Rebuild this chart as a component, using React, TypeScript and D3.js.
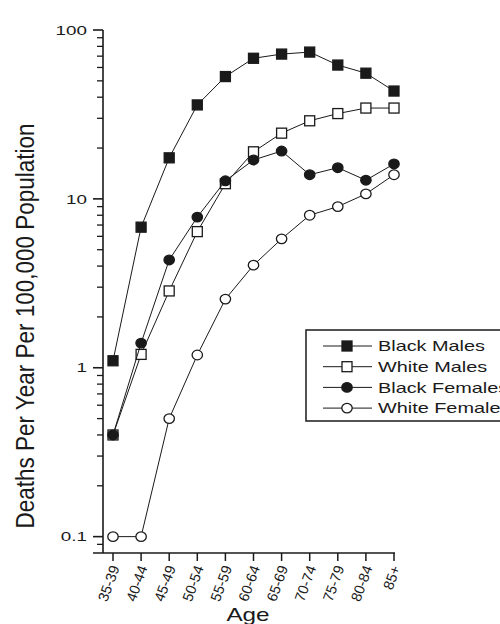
import React from "react";
import * as d3 from "d3";

// age groups on the x axis
const ages = ["35-39", "40-44", "45-49", "50-54", "55-59", "60-64", "65-69", "70-74", "75-79", "80-84", "85+"];

// deaths per year per 100,000
const blackMales = [1.1, 6.8, 17.5, 36, 53, 68, 72, 74, 62, 55.5, 43.5];
const whiteMales = [0.4, 1.2, 2.85, 6.4, 12.3, 19, 24.5, 29, 32, 34.5, 34.5];
const blackFemales = [0.4, 1.4, 4.35, 7.8, 12.8, 17, 19.2, 13.9, 15.3, 12.9, 16.1];
const whiteFemales = [0.1, 0.1, 0.5, 1.19, 2.55, 4.05, 5.8, 8.0, 9.0, 10.7, 13.9];

const seriesNames = ["Black Males", "White Males", "Black Females", "White Females"];
const majorTicks = [0.1, 1, 10, 100];
const majorLabels = ["0.1", "1", "10", "100"];

const font = "'Liberation Sans', Arial, Helvetica, sans-serif";
const ink = "#1a1a1a";

const series = [
  { name: seriesNames[0], values: blackMales, shape: "square", filled: true },
  { name: seriesNames[1], values: whiteMales, shape: "square", filled: false },
  { name: seriesNames[2], values: blackFemales, shape: "circle", filled: true },
  { name: seriesNames[3], values: whiteFemales, shape: "circle", filled: false },
];

const Marker = ({ shape, filled, cx, cy }: { shape: string; filled: boolean; cx: number; cy: number }) => {
  const fill = filled ? ink : "#fff";
  if (shape === "square") {
    return <rect x={cx - 5} y={cy - 5} width={10} height={10} fill={fill} stroke={ink} strokeWidth={1.3} />;
  }
  return <ellipse cx={cx} cy={cy} rx={5.2} ry={4.8} fill={fill} stroke={ink} strokeWidth={1.3} />;
};

export default function App() {
  const width = 500;
  const height = 624;

  const x = d3.scalePoint().domain(ages).range([113, 394]);
  const y = d3.scaleLog().domain([0.08, 100]).range([553, 30]);

  // minor ticks 2..9 of each decade, plus 0.09 at the bottom
  const minorTicks = [0.09, ...d3.range(2, 10).flatMap((m) => [m * 0.1, m, m * 10])];

  const line = d3
    .line<number>()
    .x((_, i) => x(ages[i]) as number)
    .y((d) => y(d));

  const axisX = 103;
  const axisY = 553;

  return (
    <div>
      <style>{"body{margin:0;background:#fff}"}</style>
      <svg width={width} height={height} style={{ display: "block" }} fontFamily={font}>
        <rect width={width} height={height} fill="#fff" />

        {/* y axis */}
        <line x1={axisX} x2={axisX} y1={y(100)} y2={axisY} stroke={ink} strokeWidth={1.6} />
        {minorTicks.map((t) => (
          <line key={"m" + t} x1={axisX - 6} x2={axisX} y1={y(t)} y2={y(t)} stroke={ink} strokeWidth={1.3} />
        ))}
        {majorTicks.map((t, i) => (
          <g key={"M" + t}>
            <line x1={axisX - 10} x2={axisX} y1={y(t)} y2={y(t)} stroke={ink} strokeWidth={1.6} />
            <text
              transform={`translate(87,${y(t)}) scale(1.45,1)`}
              textAnchor="end"
              dy="0.36em"
              fontSize={13}
              fill={ink}
            >
              {majorLabels[i]}
            </text>
          </g>
        ))}

        {/* x axis */}
        <line x1={axisX - 10} x2={395} y1={axisY} y2={axisY} stroke={ink} strokeWidth={1.6} />
        {ages.map((a) => (
          <g key={a}>
            <line x1={x(a)} x2={x(a)} y1={axisY} y2={axisY + 8} stroke={ink} strokeWidth={1.5} />
            <text
              transform={`translate(${(x(a) as number) + 2},566) rotate(-70)`}
              textAnchor="end"
              dy="0.35em"
              fontSize={14.5}
              fill={ink}
            >
              {a}
            </text>
          </g>
        ))}

        {/* axis titles */}
        <text transform="translate(248,621) scale(1.35,1)" textAnchor="middle" fontSize={18} fill={ink}>
          Age
        </text>
        <text
          transform="translate(25,326) scale(1.12,1) rotate(-90)"
          textAnchor="middle"
          dy="0.35em"
          fontSize={22.5}
          fill={ink}
        >
          Deaths Per Year Per 100,000 Population
        </text>

        {/* series */}
        {series.map((s) => (
          <g key={s.name}>
            <path d={line(s.values) as string} fill="none" stroke={ink} strokeWidth={1} />
            {s.values.map((v, i) => (
              <Marker key={i} shape={s.shape} filled={s.filled} cx={x(ages[i]) as number} cy={y(v)} />
            ))}
          </g>
        ))}

        {/* legend, runs past the right edge as in the original */}
        <rect x={306} y={330} width={210} height={91} fill="#fff" stroke={ink} strokeWidth={1.5} />
        {series.map((s, i) => {
          const cy = 346 + i * 20.7;
          return (
            <g key={"lg" + s.name}>
              <line x1={323} x2={372} y1={cy} y2={cy} stroke={ink} strokeWidth={1} />
              <Marker shape={s.shape} filled={s.filled} cx={347} cy={cy} />
              <text
                transform={`translate(378,${cy}) scale(1.37,1)`}
                dy="0.36em"
                fontSize={14.5}
                fill={ink}
              >
                {s.name}
              </text>
            </g>
          );
        })}
      </svg>
    </div>
  );
}
